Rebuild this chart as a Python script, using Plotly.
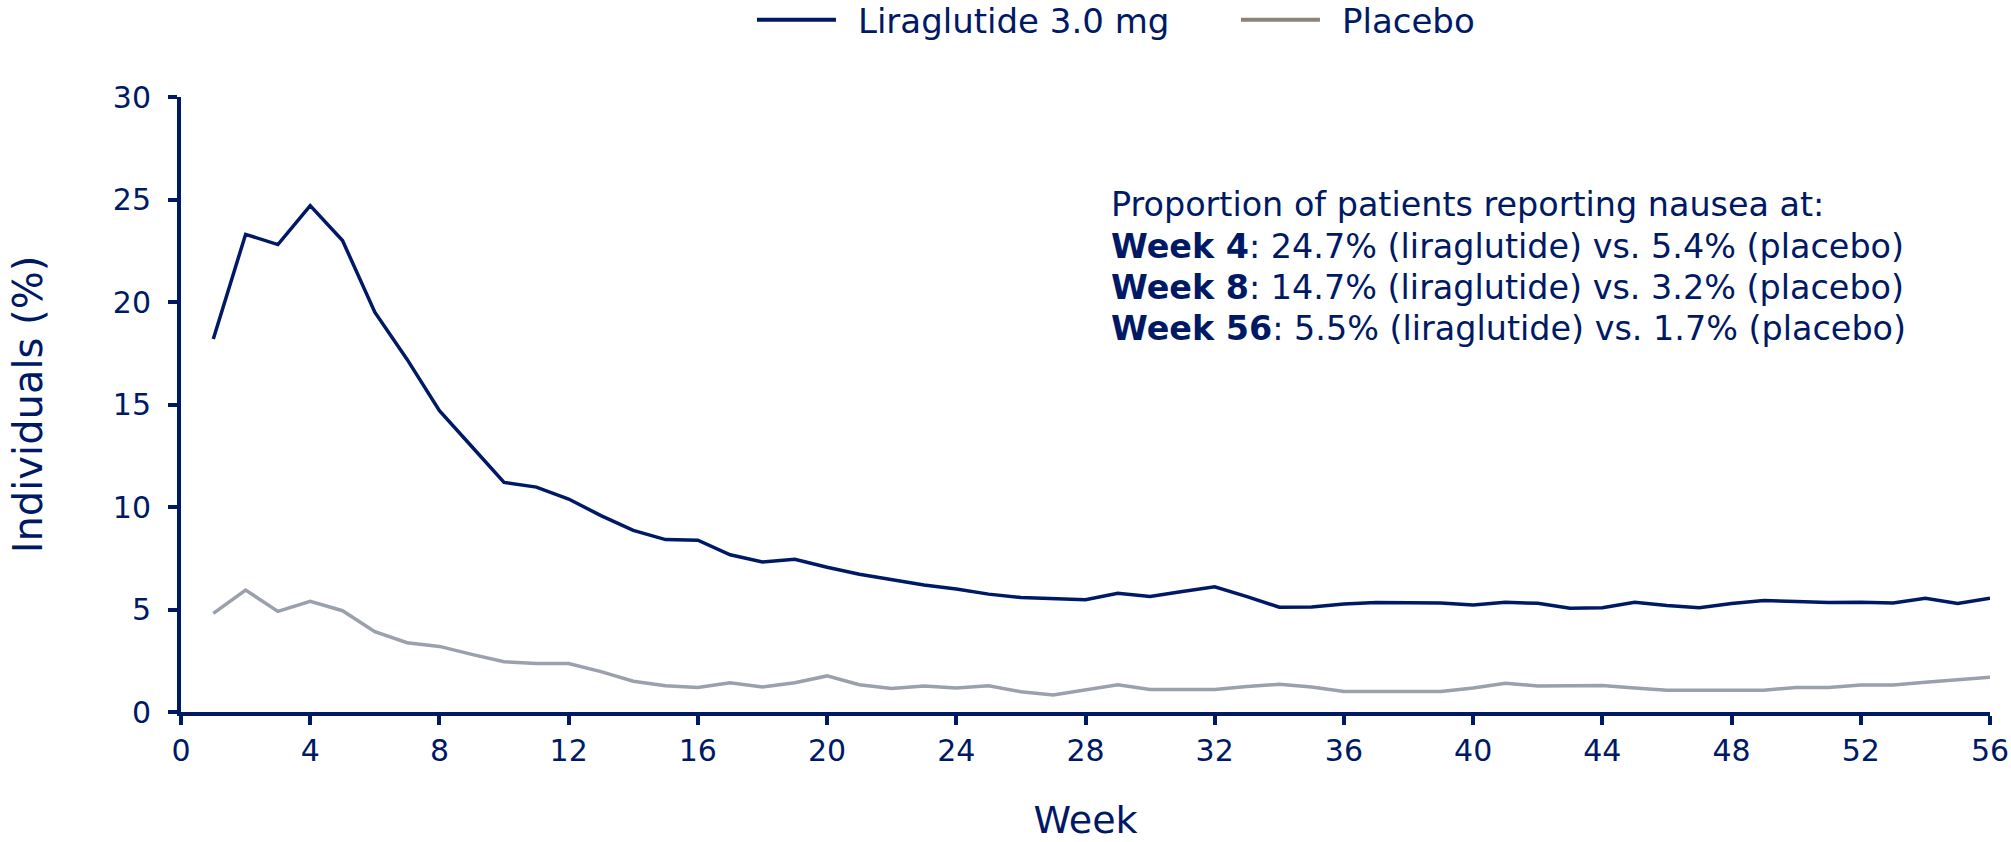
import plotly.graph_objects as go

weeks = list(range(1, 57))
liraglutide = [18.2, 23.3, 22.8, 24.7, 23.0, 19.5, 17.2, 14.7, 12.95, 11.2,
               10.97, 10.39, 9.58, 8.86, 8.41, 8.38, 7.67, 7.32, 7.45, 7.06,
               6.72, 6.47, 6.2, 6.0, 5.75, 5.58, 5.52, 5.48, 5.79, 5.64,
               5.88, 6.11, 5.63, 5.11, 5.12, 5.27, 5.34, 5.35, 5.32, 5.22,
               5.35, 5.30, 5.06, 5.09, 5.35, 5.2, 5.09, 5.29, 5.44, 5.39,
               5.34, 5.35, 5.32, 5.55, 5.29, 5.55]
placebo = [4.81, 5.95, 4.91, 5.4, 4.94, 3.92, 3.38, 3.2, 2.81, 2.45,
           2.36, 2.36, 1.97, 1.5, 1.28, 1.2, 1.43, 1.22, 1.43, 1.76,
           1.33, 1.15, 1.27, 1.17, 1.28, 0.99, 0.83, 1.1, 1.33, 1.1,
           1.1, 1.1, 1.24, 1.35, 1.22, 1.0, 1.0, 1.0, 1.0, 1.17,
           1.4, 1.27, 1.27, 1.29, 1.17, 1.06, 1.06, 1.06, 1.06, 1.2,
           1.2, 1.32, 1.32, 1.45, 1.58, 1.7]
series_names = ["Liraglutide 3.0 mg", "Placebo"]
x_ticks = list(range(0, 57, 4))
y_ticks = list(range(0, 31, 5))
note_lines = [
    "Proportion of patients reporting nausea at:",
    "<b>Week 4</b>: 24.7% (liraglutide) vs. 5.4% (placebo)",
    "<b>Week 8</b>: 14.7% (liraglutide) vs. 3.2% (placebo)",
    "<b>Week 56</b>: 5.5% (liraglutide) vs. 1.7% (placebo)",
]

NAVY = "#001965"
GRAY_LINE = "#9AA0AC"
GRAY_LEGEND = "#8B827A"
FONT = "DejaVu Sans, Verdana, sans-serif"

fig = go.Figure()
fig.add_trace(go.Scatter(x=weeks, y=liraglutide, mode="lines", showlegend=False,
                         line=dict(color=NAVY, width=3.5)))
fig.add_trace(go.Scatter(x=weeks, y=placebo, mode="lines", showlegend=False,
                         line=dict(color=GRAY_LINE, width=3.5)))
# legend entries
fig.add_trace(go.Scatter(x=[None], y=[None], mode="lines", name="\u2002" + series_names[0],
                         line=dict(color=NAVY, width=4)))
fig.add_trace(go.Scatter(x=[None], y=[None], mode="lines", name="\u2002" + series_names[1],
                         line=dict(color=GRAY_LEGEND, width=4)))

# text block, one annotation per line
for i, line in enumerate(note_lines):
    fig.add_annotation(x=28.74, y=24.75 - 2.02 * i, xref="x", yref="y",
                       xanchor="left", yanchor="middle", align="left",
                       showarrow=False, text=line,
                       font=dict(family=FONT, size=33.4, color=NAVY))

fig.update_layout(
    width=2011, height=842,
    margin=dict(l=181, r=21, t=97, b=130),
    paper_bgcolor="white", plot_bgcolor="white",
    font=dict(family=FONT, color=NAVY),
    legend=dict(orientation="h", x=0.6146, xanchor="center", xref="container",
                y=0.976, yref="container", yanchor="middle",
                font=dict(size=34, color=NAVY), itemwidth=79, entrywidth=390),
    xaxis=dict(range=[0, 56], tickvals=x_ticks, showgrid=False, zeroline=False,
               automargin=False,
               showline=True, linecolor=NAVY, linewidth=4, ticks="outside",
               ticklen=9, tickwidth=4, tickcolor=NAVY,
               tickfont=dict(size=30, color=NAVY),
               title=dict(text="Week", font=dict(size=38, color=NAVY), standoff=40)),
    yaxis=dict(range=[0, 30], tickvals=y_ticks, showgrid=False, zeroline=False,
               automargin=False,
               showline=True, linecolor=NAVY, linewidth=4, ticks="outside",
               ticklen=9, tickwidth=4, tickcolor=NAVY, ticklabelstandoff=11,
               tickfont=dict(size=30, color=NAVY),
               title=dict(text="Individuals (%)", font=dict(size=40, color=NAVY), standoff=59)),
)

fig.write_html("out.html", config={"displayModeBar": False},
               post_script="document.body.style.margin='0';")
